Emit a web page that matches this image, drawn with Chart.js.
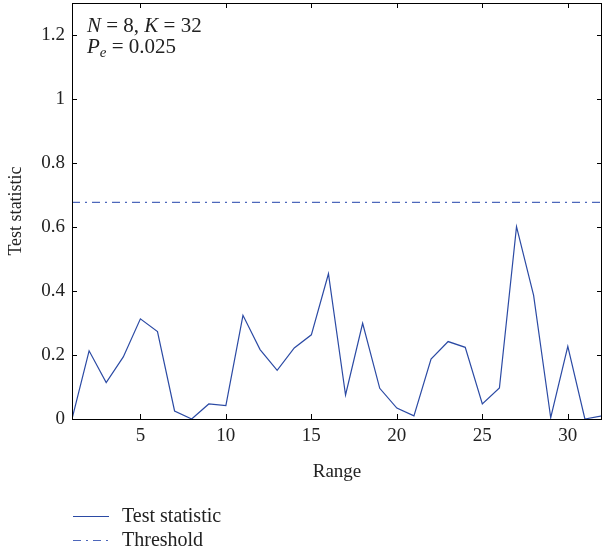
<!DOCTYPE html>
<html>
<head>
<meta charset="utf-8">
<title>Test statistic vs range</title>
<script src="https://cdn.jsdelivr.net/npm/chart.js@4.4.1/dist/chart.umd.min.js"></script>
<style>
    html, body { margin: 0; padding: 0; background: #ffffff; }
    #wrap { width: 603px; height: 554px; }
</style>
</head>
<body>
<div id="wrap"><canvas id="chart" width="603" height="554"></canvas></div>
<script>
// Range index (x) and the test statistic
const ranges = [1, 2, 3, 4, 5, 6, 7, 8, 9, 10, 11, 12, 13, 14, 15, 16,
    17, 18, 19, 20, 21, 22, 23, 24, 25, 26, 27, 28, 29, 30, 31, 32];
const testStatistic = [0, 0.213, 0.114, 0.194, 0.313, 0.273, 0.025, 0, 0.047, 0.042, 0.324, 0.217,
    0.152, 0.222, 0.263, 0.454, 0.075, 0.299, 0.096, 0.034, 0.01, 0.187, 0.242, 0.224,
    0.047, 0.097, 0.601, 0.386, 0.004, 0.227, 0, 0.01];
const thresholdValue = 0.677;

const xTickValues = [5, 10, 15, 20, 25, 30];
const yTickValues = [0, 0.2, 0.4, 0.6, 0.8, 1, 1.2];
const yTickLabels = ['0', '0.2', '0.4', '0.6', '0.8', '1', '1.2'];

const seriesLabels = ['Test statistic', 'Threshold'];

const FONT = '"Liberation Serif", "DejaVu Serif", serif';

// Box around the axes with inward ticks on all four sides
const framePlugin = {
    id: 'frame',
    afterDatasetsDraw(chart) {
        const { ctx, chartArea: a, scales } = chart;
        const len = 5;
        ctx.save();
        ctx.strokeStyle = '#000';
        ctx.lineWidth = 1;
        ctx.beginPath();
        scales.x.ticks.forEach(t => {
            const px = Math.round(scales.x.getPixelForValue(t.value)) + 0.5;
            ctx.moveTo(px, a.bottom); ctx.lineTo(px, a.bottom - len);
            ctx.moveTo(px, a.top); ctx.lineTo(px, a.top + len);
        });
        scales.y.ticks.forEach(t => {
            const py = Math.round(scales.y.getPixelForValue(t.value)) + 0.5;
            ctx.moveTo(a.left, py); ctx.lineTo(a.left + len, py);
            ctx.moveTo(a.right, py); ctx.lineTo(a.right - len, py);
        });
        ctx.stroke();
        ctx.strokeRect(Math.round(a.left) + 0.5, Math.round(a.top) + 0.5,
            Math.round(a.right - a.left) - 1, Math.round(a.bottom - a.top));
        ctx.restore();
    }
};

// Parameter note in the top-left corner
const notePlugin = {
    id: 'note',
    afterDraw(chart) {
        const { ctx, chartArea: a } = chart;
        const size = 21;
        const upright = size + 'px ' + FONT;
        const italic = 'italic ' + size + 'px ' + FONT;
        function drawParts(parts, x, y) {
            parts.forEach(p => {
                ctx.font = p.italic ? italic : upright;
                if (p.sub) ctx.font = 'italic 15px ' + FONT;
                ctx.fillText(p.text, x, y + (p.sub ? 4 : 0));
                x += ctx.measureText(p.text).width;
            });
        }
        ctx.save();
        ctx.fillStyle = '#222';
        ctx.textBaseline = 'alphabetic';
        const x0 = a.left + 15;
        drawParts([
            { text: 'N', italic: true }, { text: ' = 8, ' },
            { text: 'K', italic: true }, { text: ' = 32' }
        ], x0, a.top + 29);
        drawParts([
            { text: 'P', italic: true }, { text: 'e', sub: true }, { text: ' = 0.025' }
        ], x0, a.top + 50);
        ctx.restore();
    }
};

// Stacked legend below the x axis title
const legendPlugin = {
    id: 'stackedLegend',
    afterDraw(chart) {
        const { ctx, chartArea: a } = chart;
        ctx.save();
        chart.data.datasets.forEach((ds, i) => {
            const y = Math.round(a.bottom + 97 + i * 24) + 0.5;
            ctx.strokeStyle = ds.borderColor;
            ctx.lineWidth = ds.borderWidth;
            ctx.setLineDash(ds.borderDash || []);
            ctx.beginPath();
            ctx.moveTo(a.left + 1, y);
            ctx.lineTo(a.left + 37, y);
            ctx.stroke();
            ctx.setLineDash([]);
            ctx.font = '20px ' + FONT;
            ctx.fillStyle = '#222';
            ctx.textBaseline = 'middle';
            ctx.fillText(ds.label, a.left + 50, y);
        });
        ctx.restore();
    }
};

const ctx = document.getElementById('chart').getContext('2d');

new Chart(ctx, {
    type: 'line',
    data: {
        datasets: [
            {
                label: seriesLabels[0],
                data: ranges.map((r, i) => ({ x: r, y: testStatistic[i] })),
                borderColor: '#2b4aa4',
                borderWidth: 1.2,
                pointRadius: 0,
                tension: 0,
            },
            {
                label: seriesLabels[1],
                data: [
                    { x: ranges[0], y: thresholdValue },
                    { x: ranges[ranges.length - 1], y: thresholdValue }
                ],
                borderColor: '#4d67bb',
                borderWidth: 1.2,
                borderDash: [8, 5, 2, 5],
                pointRadius: 0,
            }
        ]
    },
    options: {
        responsive: false,
        animation: false,
        events: [],
        layout: {
            padding: { top: 3, right: 1, left: 0, bottom: 65 }
        },
        plugins: {
            legend: { display: false },
            tooltip: { enabled: false }
        },
        scales: {
            x: {
                type: 'linear',
                min: ranges[0],
                max: ranges[ranges.length - 1],
                grid: { display: false, drawTicks: false },
                border: { display: false },
                afterBuildTicks(scale) {
                    scale.ticks = xTickValues.map(v => ({ value: v }));
                },
                afterFit(scale) {
                    scale.height = 70;
                    scale.paddingLeft = 0;
                    scale.paddingRight = 0;
                },
                ticks: {
                    padding: 6,
                    maxRotation: 0,
                    color: '#222',
                    font: { family: FONT, size: 19 },
                    callback: (value) => String(value)
                },
                title: {
                    display: true,
                    text: 'Range',
                    color: '#222',
                    font: { family: FONT, size: 19 },
                    padding: { top: 0, bottom: 6 }
                }
            },
            y: {
                type: 'linear',
                min: 0,
                max: 1.3,
                grid: { display: false, drawTicks: false },
                border: { display: false },
                afterBuildTicks(scale) {
                    scale.ticks = yTickValues.map(v => ({ value: v }));
                },
                afterFit(scale) {
                    scale.width = 72;
                    scale.paddingTop = 0;
                    scale.paddingBottom = 0;
                },
                ticks: {
                    padding: 7,
                    color: '#222',
                    font: { family: FONT, size: 19 },
                    callback: (value, index) => yTickLabels[index]
                },
                title: {
                    display: true,
                    text: 'Test statistic',
                    color: '#222',
                    font: { family: FONT, size: 18 },
                    padding: { top: 5, bottom: 0 }
                }
            }
        }
    },
    plugins: [framePlugin, notePlugin, legendPlugin]
});
</script>
</body>
</html>
